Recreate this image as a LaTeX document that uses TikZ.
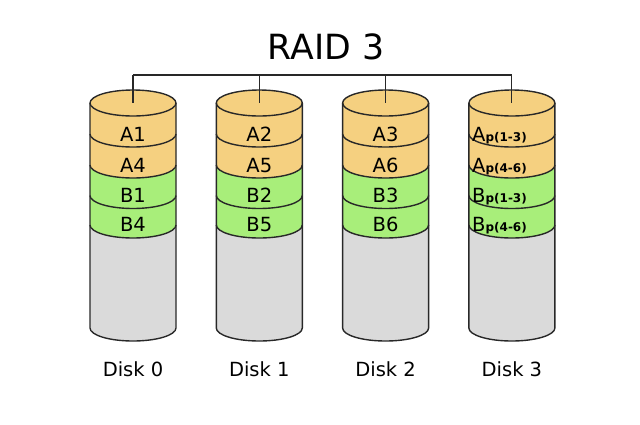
\documentclass[tikz,border=0pt]{standalone}
\usepackage{fontspec}
\setmainfont{DejaVu Sans}
\definecolor{tanc}{RGB}{245,208,128}
\definecolor{grnc}{RGB}{168,238,122}
\definecolor{gryc}{RGB}{218,218,218}
\definecolor{edgec}{RGB}{40,40,40}
\newcommand{\psub}[1]{{\fontsize{12}{12}\selectfont\bfseries\raisebox{-0.5pt}{p(#1)}}}
\tikzset{
  outline/.style={draw=edgec, line width=1.4pt},
  busline/.style={draw=edgec, line width=1.1pt},
  celltext/.style={font=\fontsize{19.5}{20}\selectfont, inner sep=0pt, anchor=base},
  disklabel/.style={font=\fontsize{19.5}{20}\selectfont, inner sep=0pt, anchor=base},
  titletext/.style={font=\fontsize{34.7}{36}\selectfont, inner sep=0pt, anchor=base}
}
\begin{document}
\begin{tikzpicture}[x=1pt,y=1pt,line join=round]
\useasboundingbox (0,0) rectangle (640,-424);
\def\rx{43}
\def\ry{13}
\node[titletext] (title) at (326,-59) {RAID 3};
\foreach \i/\cx in {0/133,1/259.3,2/385.6,3/511.9}{
  % gray body
  \fill[gryc] (\cx-\rx,-225) -- (\cx-\rx,-328) arc[start angle=180,end angle=360,x radius=\rx,y radius=\ry]
     -- (\cx+\rx,-225) arc[start angle=0,end angle=-180,x radius=\rx,y radius=\ry] -- cycle;
  % bands
  \foreach \ta/\tb/\col in {103/134/tanc,134/165/tanc,165/195.5/grnc,195.5/225/grnc}{
    \fill[\col] (\cx-\rx,-\ta) -- (\cx-\rx,-\tb) arc[start angle=180,end angle=360,x radius=\rx,y radius=\ry]
       -- (\cx+\rx,-\ta) arc[start angle=0,end angle=-180,x radius=\rx,y radius=\ry] -- cycle;
  }
  % top ellipse
  \fill[tanc] (\cx,-103) ellipse[x radius=\rx,y radius=\ry];
  % outlines
  \draw[outline] (\cx-\rx,-103) -- (\cx-\rx,-328) arc[start angle=180,end angle=360,x radius=\rx,y radius=\ry] -- (\cx+\rx,-103);
  \draw[outline] (\cx,-103) ellipse[x radius=\rx,y radius=\ry];
  \foreach \e in {134,165,195.5,225}{
    \draw[outline] (\cx-\rx,-\e) arc[start angle=180,end angle=360,x radius=\rx,y radius=\ry];
  }
  \coordinate (top\i) at (\cx,-103);
  \coordinate (j\i) at (\cx,-75);
  \node[disklabel] (dl\i) at (\cx,-376.5) {Disk \i};
}
% cell labels
\foreach \i/\cx/\la/\lb/\lc/\ld in {0/133/A1/A4/B1/B4,1/259.3/A2/A5/B2/B5,2/385.6/A3/A6/B3/B6}{
  \node[celltext] (c\i a) at (\cx,-141) {\la};
  \node[celltext] (c\i b) at (\cx,-172) {\lb};
  \node[celltext] (c\i c) at (\cx,-202) {\lc};
  \node[celltext] (c\i d) at (\cx,-231) {\ld};
}
\node[celltext, anchor=base west] (c3a) at (472,-141) {A\psub{1-3}};
\node[celltext, anchor=base west] (c3b) at (472,-172) {A\psub{4-6}};
\node[celltext, anchor=base west] (c3c) at (472,-202) {B\psub{1-3}};
\node[celltext, anchor=base west] (c3d) at (472,-231) {B\psub{4-6}};
% bus
\draw[busline] (j0) -- (j3);
\foreach \i in {0,1,2,3}{ \draw[busline] (j\i) -- (top\i); }
\end{tikzpicture}
\end{document}
